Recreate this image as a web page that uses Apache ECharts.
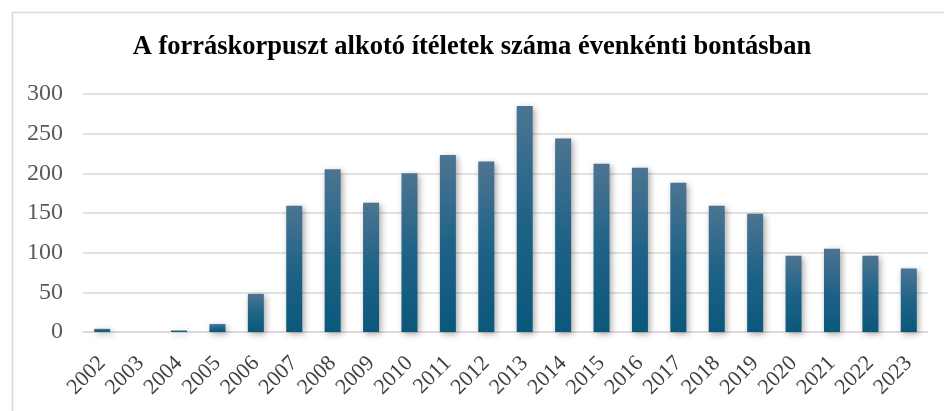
<!DOCTYPE html>
<html>
<head>
<meta charset="utf-8">
<title>Ítéletek száma</title>
<script src="https://cdn.jsdelivr.net/npm/echarts@6/dist/echarts.min.js"></script>
<style>
  html, body { margin: 0; padding: 0; background: #fff; }
</style>
</head>
<body>
<div id="main" style="width: 944px; height: 411px;"></div>
<script type="text/javascript">

// years and judgement counts
var years = ['2002', '2003', '2004', '2005', '2006', '2007', '2008', '2009', '2010', '2011', '2012',
             '2013', '2014', '2015', '2016', '2017', '2018', '2019', '2020', '2021', '2022', '2023'];
var counts = [4, 0, 2, 10, 48, 159, 205, 163, 200, 223, 215,
              285, 244, 212, 207, 188, 159, 149, 96, 105, 96, 80];
var yTicks = [0, 50, 100, 150, 200, 250, 300];

var myChart = echarts.init(document.getElementById('main'));
var serif = '"Liberation Serif", "DejaVu Serif", serif';

var option = {
  animation: false,
  backgroundColor: '#fff',
  graphic: [{
    type: 'rect',
    left: 10,
    top: 10,
    shape: { width: 1000, height: 500 },
    style: { fill: 'none', stroke: '#d9d9d9', lineWidth: 1.5 },
    silent: true
  }],
  title: {
    text: 'A forráskorpuszt alkotó ítéletek száma évenkénti bontásban',
    left: 'center',
    top: 29,
    textStyle: { fontFamily: serif, fontWeight: 'bold', fontSize: 26.5, color: '#000' }
  },
  grid: { left: 83, right: 16, top: 94, bottom: 79 },
  xAxis: {
    type: 'category',
    data: years,
    axisTick: { show: false },
    axisLine: { lineStyle: { color: '#d9d9d9', width: 1.5 } },
    axisLabel: {
      interval: 0, hideOverlap: false, rotate: 45, margin: 28,
      fontFamily: serif, fontSize: 22, color: '#404040'
    }
  },
  yAxis: {
    type: 'value',
    min: yTicks[0],
    max: yTicks[yTicks.length - 1],
    interval: 50,
    axisLine: { show: false },
    axisTick: { show: false },
    splitLine: { lineStyle: { color: '#d9d9d9', width: 1.5 } },
    axisLabel: { margin: 20, fontFamily: serif, fontSize: 24, color: '#595959' }
  },
  series: [{
    type: 'bar',
    data: counts,
    barWidth: 16,
    itemStyle: {
      color: new echarts.graphic.LinearGradient(0, 0, 0, 1, [
        { offset: 0, color: '#4d7492' },
        { offset: 0.5, color: '#1f6387' },
        { offset: 1, color: '#0b577b' }
      ]),
      shadowBlur: 6,
      shadowColor: 'rgba(0,0,0,0.35)',
      shadowOffsetX: 2,
      shadowOffsetY: 2
    }
  }]
};

option && myChart.setOption(option);
</script>
</body>
</html>
